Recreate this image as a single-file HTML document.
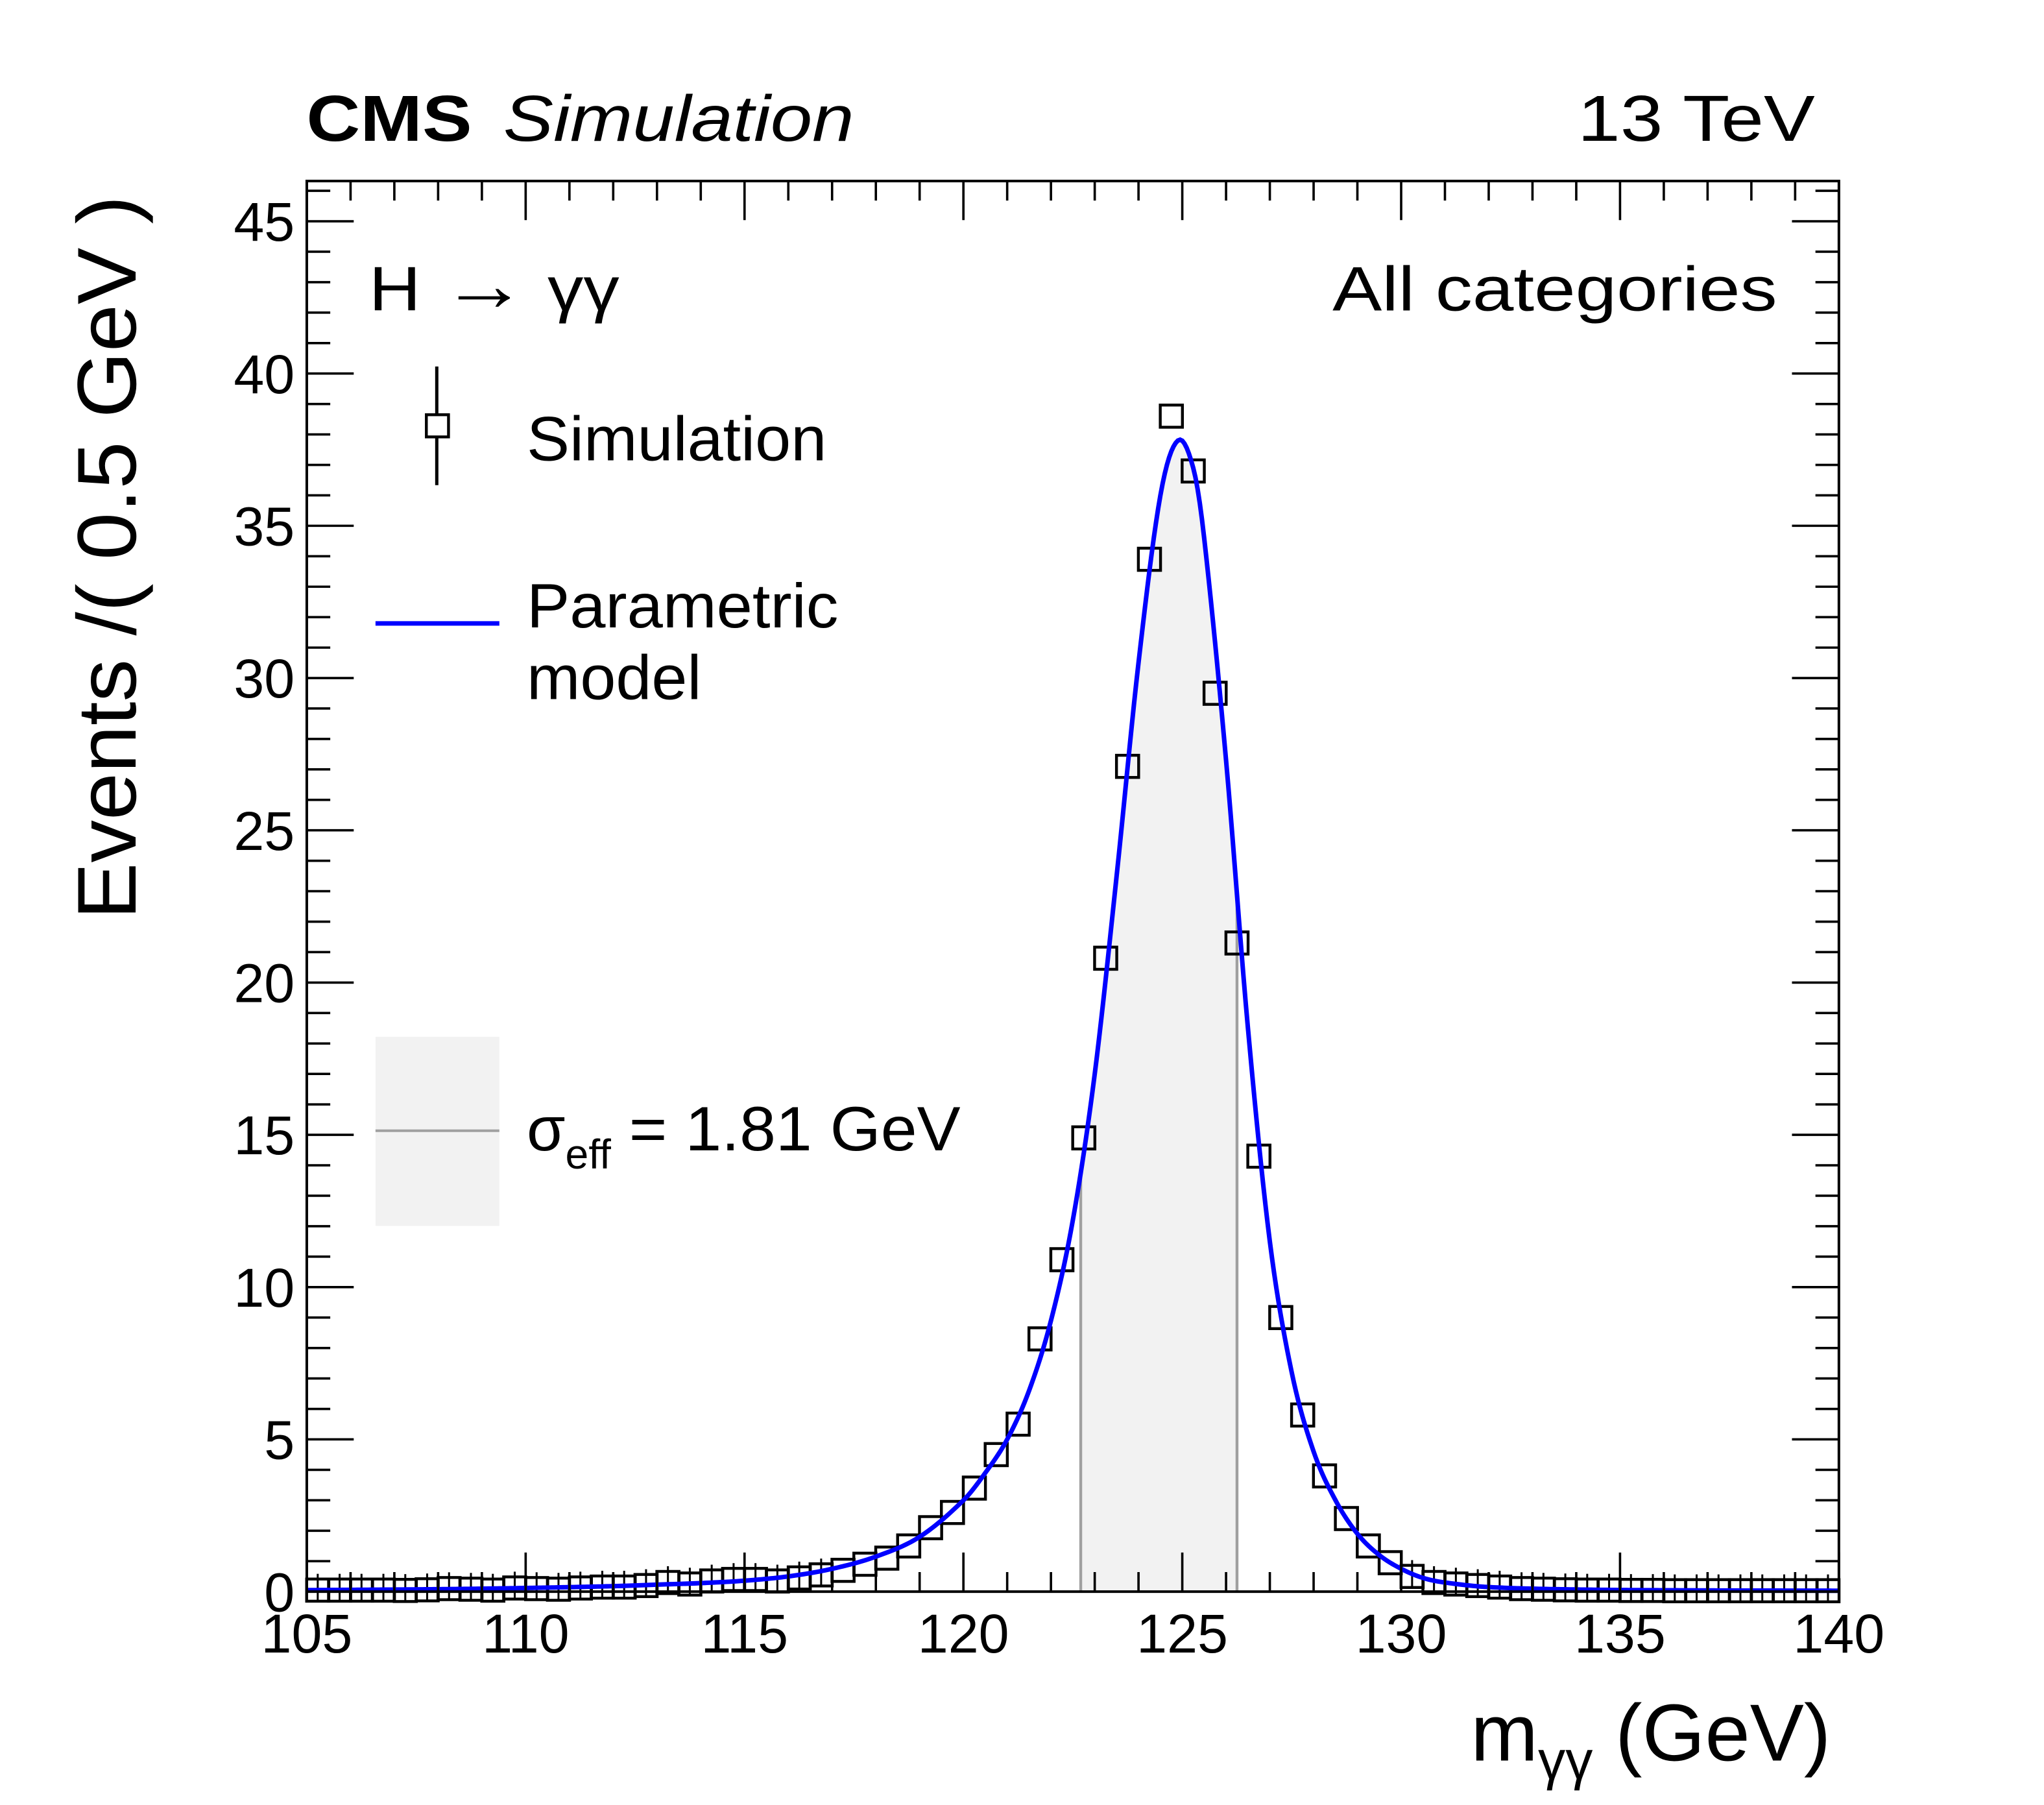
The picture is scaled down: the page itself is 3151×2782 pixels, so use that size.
<!DOCTYPE html>
<html><head><meta charset="utf-8"><style>
html,body{margin:0;padding:0;background:#fff;}
svg{display:block;}
text{font-family:"Liberation Sans",sans-serif;fill:#000;}
</style></head><body>
<svg id="s" width="3151" height="2782" viewBox="0 0 1567.7 1384" preserveAspectRatio="none" xmlns="http://www.w3.org/2000/svg">
<rect width="1567.7" height="1384" fill="#fff"/>
<g id="plot"></g>
<text x="235" y="108" font-size="50" font-weight="bold" textLength="127" lengthAdjust="spacingAndGlyphs">CMS</text>
<text x="386" y="108" font-size="50" font-style="italic" textLength="269" lengthAdjust="spacingAndGlyphs">Simulation</text>
<text x="1210" y="108" font-size="50" textLength="182" lengthAdjust="spacingAndGlyphs">13 TeV</text>
<text x="283" y="238" font-size="48" textLength="192" lengthAdjust="spacingAndGlyphs">H <tspan font-size="58">→</tspan> γγ</text>
<text x="1022" y="238" font-size="48" textLength="341" lengthAdjust="spacingAndGlyphs">All categories</text>
<text x="404" y="353" font-size="48" textLength="230" lengthAdjust="spacingAndGlyphs">Simulation</text>
<text x="404" y="481" font-size="48" textLength="239" lengthAdjust="spacingAndGlyphs">Parametric</text>
<text x="404" y="536" font-size="48" textLength="134" lengthAdjust="spacingAndGlyphs">model</text>
<text x="404" y="882" font-size="48">σ<tspan font-size="32" dy="14">eff</tspan><tspan dy="-14" textLength="268" lengthAdjust="spacingAndGlyphs"> = 1.81 GeV</tspan></text>
<text x="1128" y="1350" font-size="62">m<tspan font-size="42" dy="14">γγ</tspan><tspan dy="-14"> (GeV)</tspan></text>
<text transform="translate(104,150) rotate(-90)" font-size="64" text-anchor="end" textLength="555" lengthAdjust="spacingAndGlyphs">Events /( 0.5 GeV )</text>
<line x1="335" y1="281" x2="335" y2="372" stroke="#000" stroke-width="2.5"/>
<rect x="327" y="318" width="17" height="17" fill="#fff" stroke="#000" stroke-width="2.2"/>
<line x1="288" y1="478" x2="383" y2="478" stroke="#0000ff" stroke-width="3.5"/>
<rect x="288" y="795" width="95" height="145" fill="#f2f2f2"/>
<line x1="288" y1="867" x2="383" y2="867" stroke="#a0a0a0" stroke-width="2"/>
</svg>
<script>
(function(){
var L=235.3,R=1410.4,T=138.8,Z=1220.4,PY=23.35;
function X(v){return L+(v-105)/35*(R-L);}
function Y(v){return Z-v*PY;}
var g=document.getElementById('plot'),h='';
var K=[[105,0.05],[108,0.08],[110,0.12],[112,0.18],[113,0.23],[114,0.28],[115,0.36],[116,0.5],[117,0.75],[118,1.15],[119,1.8],[120,3.0],[120.5,3.9],[121,5.0],[121.5,6.6],[122,8.9],[122.5,12.2],[123,17.0],[123.5,23.5],[124,30.5],[124.5,36.0],[124.9,37.8],[125.25,36.9],[125.5,34.6],[126,27.3],[126.5,18.5],[127,11.5],[127.5,7.2],[128,4.6],[128.5,3.0],[129,1.9],[129.5,1.2],[130,0.75],[130.5,0.45],[131,0.3],[132,0.15],[134,0.07],[137,0.04],[140,0.03]];
function cr(t){
 for(var i=0;i<K.length-1;i++){ if(t<=K[i+1][0]){
  var p0=K[Math.max(i-1,0)],p1=K[i],p2=K[i+1],p3=K[Math.min(i+2,K.length-1)];
  var u=(t-p1[0])/(p2[0]-p1[0]);
  var m1=(p2[1]-p0[1])/(p2[0]-p0[0])*(p2[0]-p1[0]);
  var m2=(p3[1]-p1[1])/(p3[0]-p1[0])*(p2[0]-p1[0]);
  var u2=u*u,u3=u2*u;
  return (2*u3-3*u2+1)*p1[1]+(u3-2*u2+u)*m1+(-2*u3+3*u2)*p2[1]+(u3-u2)*m2;}}
 return K[K.length-1][1];}
var a=122.68,b=126.25,d='M'+X(a)+','+Z;
for(var t=a;t<=b+1e-9;t+=0.02)d+='L'+X(t).toFixed(2)+','+Y(cr(t)).toFixed(2);
d+='L'+X(b)+','+Z+'Z';
h+='<path d="'+d+'" fill="#f2f2f2"/>';
h+='<line x1="'+X(a)+'" y1="'+Z+'" x2="'+X(a)+'" y2="'+Y(cr(a))+'" stroke="#a0a0a0" stroke-width="2.2"/>';
h+='<line x1="'+X(b)+'" y1="'+Z+'" x2="'+X(b)+'" y2="'+Y(cr(b))+'" stroke="#a0a0a0" stroke-width="2.2"/>';
var D=[0.05,0.05,0.05,0.05,0.04,0.06,0.1,0.08,0.05,0.12,0.1,0.08,0.12,0.15,0.15,0.2,0.3,0.25,0.35,0.4,0.4,0.35,0.45,0.55,0.7,0.9,1.1,1.5,2.1,2.6,3.4,4.5,5.5,8.3,10.9,14.9,20.8,27.1,33.9,38.6,36.8,29.5,21.3,14.3,9.0,5.8,3.8,2.4,1.5,0.95,0.5,0.3,0.25,0.2,0.15,0.1,0.08,0.06,0.05,0.05,0.04,0.04,0.03,0.03,0.03,0.03,0.03,0.03,0.03,0.03];
var s=17;
for(var i=0;i<70;i++){var xc=X(105.25+0.5*i),yc=Y(D[i]);
 if(D[i]<0.6){h+='<line x1="'+xc+'" y1="'+(yc-s/2-4)+'" x2="'+xc+'" y2="'+(yc+s/2)+'" stroke="#000" stroke-width="1.5"/>';}
 h+='<rect x="'+(xc-s/2)+'" y="'+(yc-s/2)+'" width="'+s+'" height="'+s+'" fill="none" stroke="#000" stroke-width="2.2"/>';}
var c='';
for(var t=105;t<=140.001;t+=0.05)c+=(c?'L':'M')+X(t).toFixed(2)+','+Y(cr(t)).toFixed(2);
h+='<path d="'+c+'" fill="none" stroke="#0000ff" stroke-width="3.5"/>';
h+='<rect x="'+L+'" y="'+T+'" width="'+(R-L)+'" height="'+(Z-T)+'" fill="none" stroke="#000" stroke-width="2"/>';
var tk='';
for(var v=0;v<=46;v++){var y=Y(v),len=(v%5==0)?36:18;
 tk+='M'+L+','+y+'h'+len+'M'+R+','+y+'h'+(-len);
 if(v%5==0)h+='<text x="226" y="'+(y+15)+'" font-size="42" text-anchor="end">'+v+'</text>';}
for(var v=105;v<=140;v++){var x=X(v),len=(v%5==0)?30:15;
 tk+='M'+x+','+Z+'v'+(-len)+'M'+x+','+T+'v'+len;
 if(v%5==0)h+='<text x="'+x+'" y="1267" font-size="42" text-anchor="middle">'+v+'</text>';}
h+='<path d="'+tk+'" stroke="#000" stroke-width="1.8" fill="none"/>';
g.innerHTML=h;
})();
</script>
</body></html>
